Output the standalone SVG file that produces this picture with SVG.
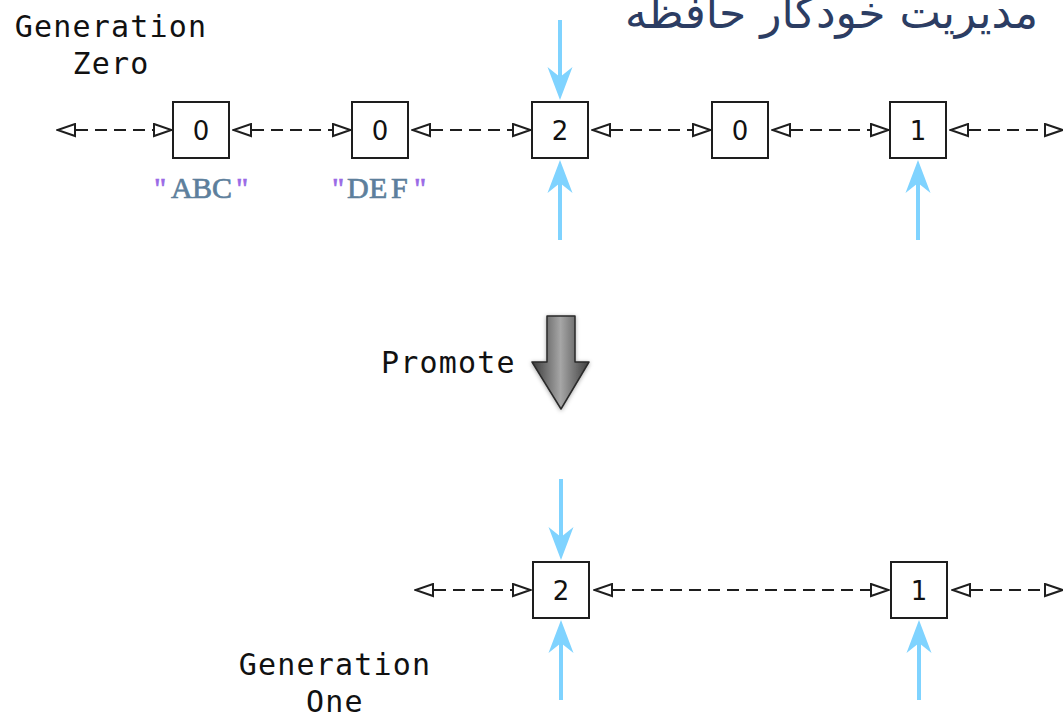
<svg xmlns="http://www.w3.org/2000/svg" width="1063" height="721" viewBox="0 0 1063 721">
  <style>
    .box rect { fill: #ffffff; stroke: #1e1e1e; stroke-width: 2; }
    .box text { font-family: "DejaVu Sans", sans-serif; font-size: 26px; fill: #111; text-anchor: middle; }
    .label { font-family: "DejaVu Sans Mono", monospace; font-size: 30px; fill: #111; letter-spacing: 1.2px; }
    .str { font-family: "Liberation Serif", serif; font-size: 30px; fill: #5d7f9c; stroke: #5d7f9c; stroke-width: 0.7px; }
    .q { fill: #9a6ae6; stroke: #9a6ae6; }
    .link { fill: none; stroke: #1e1e1e; stroke-width: 2; stroke-dasharray: 12 7; marker-start: url(#open); marker-end: url(#open); }
    .ref line { stroke: #7fd3ff; stroke-width: 4; }
    .ref path { fill: #7fd3ff; }
    .title { font-family: "DejaVu Sans", "Noto Sans", sans-serif; font-size: 44px; fill: #2c3d63; }
  </style>
  <defs>
    <marker id="open" viewBox="0 0 21 15" refX="20" refY="7.5" markerWidth="21" markerHeight="15" markerUnits="userSpaceOnUse" orient="auto-start-reverse">
      <path d="M2,1.5 L19.5,7.5 L2,13.5 Z" fill="#ffffff" stroke="#1e1e1e" stroke-width="2" stroke-linejoin="miter"/>
    </marker>
    <linearGradient id="metal" x1="0" y1="0" x2="1" y2="0">
      <stop offset="0" stop-color="#3a3a3a"/>
      <stop offset="0.5" stop-color="#a6a6a6"/>
      <stop offset="1" stop-color="#3e3e3e"/>
    </linearGradient>
    <filter id="soft" x="-30%" y="-30%" width="160%" height="160%">
      <feDropShadow dx="0" dy="1" stdDeviation="2" flood-color="#000" flood-opacity="0.35"/>
    </filter>
  </defs>

  <!-- heading, runs off the right edge -->
  <text class="title" x="625" y="28" direction="rtl" text-anchor="end">مدیریت خودکار حافظه</text>

  <!-- generation labels -->
  <g id="gen-zero-label">
    <text class="label" x="111" y="37" text-anchor="middle">Generation</text>
    <text class="label" x="111" y="74" text-anchor="middle">Zero</text>
  </g>
  <g id="gen-one-label">
    <text class="label" x="335" y="675" text-anchor="middle">Generation</text>
    <text class="label" x="335" y="712" text-anchor="middle">One</text>
  </g>

  <!-- dashed links between objects -->
  <g id="links">
    <path class="link" d="M57,130 H172"/>
    <path class="link" d="M233,130 H351"/>
    <path class="link" d="M412,130 H531"/>
    <path class="link" d="M592,130 H711"/>
    <path class="link" d="M772,130 H889"/>
    <path class="link" d="M950,130 H1063"/>
    <path class="link" d="M415,590 H531"/>
    <path class="link" d="M594,590 H889"/>
    <path class="link" d="M952,590 H1063"/>
  </g>

  <!-- references pointing into objects -->
  <g id="refs" class="ref">
    <line x1="560" y1="20" x2="560" y2="80"/>
    <path d="M560,100 L547.5,67 L560,77 L572.5,67 Z"/>
    <line x1="560" y1="240" x2="560" y2="180"/>
    <path d="M560,160 L547.5,193 L560,183 L572.5,193 Z"/>
    <line x1="918" y1="240" x2="918" y2="180"/>
    <path d="M918,160 L905.5,193 L918,183 L930.5,193 Z"/>
    <line x1="561" y1="479" x2="561" y2="540"/>
    <path d="M561,560 L548.5,527 L561,537 L573.5,527 Z"/>
    <line x1="561" y1="700" x2="561" y2="640"/>
    <path d="M561,620 L548.5,653 L561,643 L573.5,653 Z"/>
    <line x1="919" y1="700" x2="919" y2="640"/>
    <path d="M919,620 L906.5,653 L919,643 L931.5,653 Z"/>
  </g>

  <!-- generation zero objects -->
  <g id="g0-a" class="box">
    <rect x="173" y="102" width="56" height="56"/>
    <text x="201" y="139.5">0</text>
  </g>
  <g id="g0-b" class="box">
    <rect x="352" y="102" width="56" height="56"/>
    <text x="380" y="139.5">0</text>
  </g>
  <g id="g0-c" class="box">
    <rect x="532" y="102" width="56" height="56"/>
    <text x="560" y="139.5">2</text>
  </g>
  <g id="g0-d" class="box">
    <rect x="712" y="102" width="56" height="56"/>
    <text x="740" y="139.5">0</text>
  </g>
  <g id="g0-e" class="box">
    <rect x="890" y="102" width="56" height="56"/>
    <text x="918" y="139.5">1</text>
  </g>

  <!-- string payloads -->
  <g id="str-abc">
    <text class="str" y="198"><tspan class="q" x="154">"</tspan><tspan x="171">A</tspan><tspan x="192">B</tspan><tspan x="212">C</tspan><tspan class="q" x="236">"</tspan></text>
  </g>
  <g id="str-def">
    <text class="str" y="198"><tspan class="q" x="332">"</tspan><tspan x="347">D</tspan><tspan x="369">E</tspan><tspan x="391">F</tspan><tspan class="q" x="414">"</tspan></text>
  </g>

  <!-- promotion step -->
  <g id="promote">
    <text class="label" x="381" y="373">Promote</text>
    <path d="M547,316 H575 V362 H589 L561,409 L532,362 H547 Z" fill="url(#metal)" stroke="#2a2a2a" stroke-width="1.5" stroke-linejoin="round" filter="url(#soft)"/>
  </g>

  <!-- generation one objects -->
  <g id="g1-a" class="box">
    <rect x="533" y="562" width="56" height="56"/>
    <text x="561" y="599.5">2</text>
  </g>
  <g id="g1-b" class="box">
    <rect x="891" y="562" width="56" height="56"/>
    <text x="919" y="599.5">1</text>
  </g>
</svg>
